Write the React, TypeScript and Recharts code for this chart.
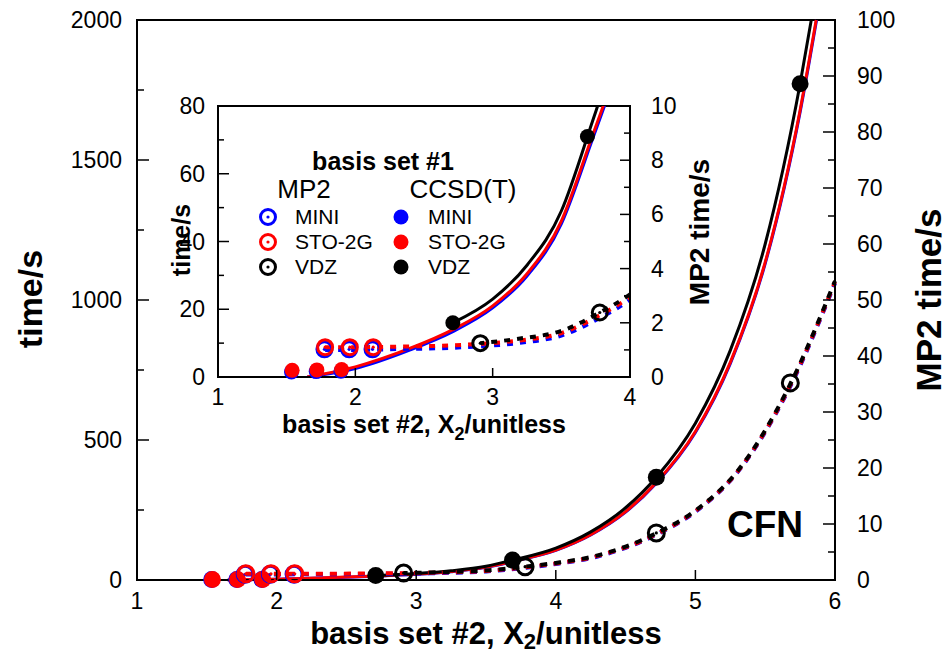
import { ComposedChart, Line, Scatter, XAxis, YAxis, ReferenceArea } from "recharts";

const FONT = "'Liberation Sans', Arial, Helvetica, sans-serif";
const BLUE = "#0000ff";
const RED = "#ff0000";
const BLACK = "#000000";

// CCSD(T) timings, time/s on the left axis (filled symbols)
const ccsdMiniX = [1.535, 1.715, 1.895];
const ccsdMiniT = [1.5, 1.6, 1.7];
const ccsdStoX = [1.54, 1.72, 1.9];
const ccsdStoT = [2.0, 2.1, 2.2];
const ccsdVdzX = [2.71, 3.69, 4.72, 5.75];
const ccsdVdzT = [16, 71, 367, 1772];

// MP2 timings, time/s on the right axis (open symbols)
const mp2MiniX = [1.775, 1.955, 2.125];
const mp2MiniT = [1.02, 1.02, 1.02];
const mp2StoX = [1.78, 1.96, 2.13];
const mp2StoT = [1.1, 1.1, 1.1];
const mp2VdzX = [2.91, 3.78, 4.72, 5.68];
const mp2VdzT = [1.25, 2.38, 8.4, 35.2];

// fitted curves
const fitCcsdVdzX = [2.71, 3.0, 3.25, 3.5, 3.69, 4.0, 4.25, 4.5, 4.72, 5.0, 5.25, 5.5, 5.75, 5.83];
const fitCcsdVdzT = [16, 23, 33, 49, 71, 114, 172, 258, 367, 560, 820, 1200, 1772, 2000];
const fitCcsdStoX = [1.65, 2.0, 2.4, 2.71, 3.0, 3.25, 3.5, 3.69, 4.0, 4.25, 4.5, 4.72, 5.0, 5.25, 5.5, 5.75, 5.865];
const fitCcsdStoT = [0, 3, 8.5, 14, 21, 30.5, 46, 67, 107, 162, 244, 348, 530, 777, 1135, 1678, 2000];
const fitCcsdMiniX = [1.65, 2.0, 2.4, 2.71, 3.0, 3.25, 3.5, 3.69, 4.0, 4.25, 4.5, 4.72, 5.0, 5.25, 5.5, 5.75, 5.868];
const fitCcsdMiniT = [0, 2.5, 8.0, 13.4, 20.4, 29.8, 45.2, 66, 106, 161, 242.5, 346, 527, 773, 1130, 1671, 2000];

const fitMp2VdzX = [2.91, 3.2, 3.5, 3.78, 4.0, 4.3, 4.72, 5.0, 5.3, 5.68, 6.0];
const fitMp2VdzT = [1.25, 1.42, 1.7, 2.38, 3.05, 4.4, 8.35, 12.4, 19.4, 35.0, 53.4];
const fitMp2StoX = [1.78, 2.0, 2.3, 2.6, 2.9, 3.2, 3.5, 3.78, 4.0, 4.3, 4.72, 5.0, 5.3, 5.68, 6.0];
const fitMp2StoT = [1.1, 1.1, 1.12, 1.15, 1.22, 1.35, 1.62, 2.28, 2.95, 4.3, 8.2, 12.3, 19.3, 34.8, 53.2];
const fitMp2MiniT = [1.0, 1.0, 1.03, 1.06, 1.13, 1.26, 1.53, 2.18, 2.85, 4.2, 8.1, 12.2, 19.2, 34.6, 53.0];

// axis ticks
const mainXTicks = [1, 2, 3, 4, 5, 6];
const mainLeftTicks = [0, 250, 500, 750, 1000, 1250, 1500, 1750, 2000];
const mainLeftMajor = [0, 500, 1000, 1500, 2000];
const mainRightTicks = [0, 5, 10, 15, 20, 25, 30, 35, 40, 45, 50, 55, 60, 65, 70, 75, 80, 85, 90, 95, 100];
const mainRightMajor = [0, 10, 20, 30, 40, 50, 60, 70, 80, 90, 100];
const insetXTicks = [1, 2, 3, 4];
const insetLeftTicks = [0, 10, 20, 30, 40, 50, 60, 70, 80];
const insetLeftMajor = [0, 20, 40, 60, 80];
const insetRightTicks = [0, 1, 2, 3, 4, 5, 6, 7, 8, 9, 10];
const insetRightMajor = [0, 2, 4, 6, 8, 10];

const pts = (xs: number[], ys: number[]) => xs.map((x, i) => ({ x, y: ys[i] }));

const yTick =
  (edge: number, side: "left" | "right", majors: number[], majorLen: number, minorLen: number) =>
  (props: any) => {
    const { x, y, payload } = props;
    const v = payload.value;
    const isMajor = majors.includes(v);
    const len = isMajor ? majorLen : minorLen;
    const dir = side === "left" ? 1 : -1;
    return (
      <g>
        <line x1={edge} x2={edge + dir * len} y1={y} y2={y} stroke={BLACK} strokeWidth={1.5} />
        {isMajor && (
          <text x={x} y={y} dy="0.35em" textAnchor={side === "left" ? "end" : "start"} fontSize={23} fontFamily={FONT} fill={BLACK}>
            {v}
          </text>
        )}
      </g>
    );
  };

const xTick = (edge: number, len: number, lo: number, hi: number) => (props: any) => {
  const { x, y, payload } = props;
  const v = payload.value;
  const showLine = v !== lo && v !== hi;
  return (
    <g>
      {showLine && <line x1={x} x2={x} y1={edge} y2={edge - len} stroke={BLACK} strokeWidth={1.5} />}
      <text x={x} y={y} dy="0.71em" textAnchor="middle" fontSize={23} fontFamily={FONT} fill={BLACK}>
        {v}
      </text>
    </g>
  );
};

const filled = (color: string, r: number) => (p: any) => <circle cx={p.cx} cy={p.cy} r={r} fill={color} />;
const open = (color: string, r: number) => (p: any) => (
  <g>
    <circle cx={p.cx} cy={p.cy} r={r} fill="none" stroke={color} strokeWidth={3} />
    <circle cx={p.cx} cy={p.cy} r={1.6} fill={color} />
  </g>
);

const axisLine = { stroke: BLACK, strokeWidth: 2 };
const txt = { fontFamily: FONT, fill: BLACK };

const MainChart = () => (
  <ComposedChart width={948} height={655} margin={{ top: 20, right: 0, bottom: 0, left: 0 }}>
    <XAxis
      xAxisId="x"
      type="number"
      dataKey="x"
      domain={[1, 6]}
      ticks={mainXTicks}
      interval={0}
      height={75}
      tickSize={0}
      tickLine={false}
      tickMargin={13}
      axisLine={axisLine}
      tick={xTick(580, 10, 1, 6)}
    />
    <YAxis
      yAxisId="l"
      type="number"
      domain={[0, 2000]}
      ticks={mainLeftTicks}
      interval={0}
      width={137}
      tickSize={0}
      tickLine={false}
      tickMargin={15}
      axisLine={axisLine}
      tick={yTick(137, "left", mainLeftMajor, 12, 7)}
    />
    <YAxis
      yAxisId="r"
      orientation="right"
      type="number"
      domain={[0, 100]}
      ticks={mainRightTicks}
      interval={0}
      width={113}
      tickSize={0}
      tickLine={false}
      tickMargin={22}
      axisLine={axisLine}
      tick={yTick(835, "right", mainRightMajor, 12, 7)}
    />
    <ReferenceArea xAxisId="x" yAxisId="l" x1={1} x2={6} y1={0} y2={2000} fill="none" stroke={BLACK} strokeWidth={2} />

    <Line xAxisId="x" yAxisId="l" data={pts(fitCcsdMiniX, fitCcsdMiniT)} dataKey="y" type="monotone" stroke={BLUE} strokeWidth={3} dot={false} isAnimationActive={false} />
    <Line xAxisId="x" yAxisId="l" data={pts(fitCcsdStoX, fitCcsdStoT)} dataKey="y" type="monotone" stroke={RED} strokeWidth={3} dot={false} isAnimationActive={false} />
    <Line xAxisId="x" yAxisId="l" data={pts(fitCcsdVdzX, fitCcsdVdzT)} dataKey="y" type="monotone" stroke={BLACK} strokeWidth={3} dot={false} isAnimationActive={false} />
    <Line xAxisId="x" yAxisId="r" data={pts(fitMp2StoX, fitMp2MiniT)} dataKey="y" type="monotone" stroke={BLUE} strokeWidth={4} strokeDasharray="7 7" dot={false} isAnimationActive={false} />
    <Line xAxisId="x" yAxisId="r" data={pts(fitMp2StoX, fitMp2StoT)} dataKey="y" type="monotone" stroke={RED} strokeWidth={4} strokeDasharray="7 7" dot={false} isAnimationActive={false} />
    <Line xAxisId="x" yAxisId="r" data={pts(fitMp2VdzX, fitMp2VdzT)} dataKey="y" type="monotone" stroke={BLACK} strokeWidth={4} strokeDasharray="7 7" strokeDashoffset={3} dot={false} isAnimationActive={false} />

    <Scatter xAxisId="x" yAxisId="l" data={pts(ccsdMiniX, ccsdMiniT)} dataKey="y" shape={filled(BLUE, 8.5)} isAnimationActive={false} />
    <Scatter xAxisId="x" yAxisId="l" data={pts(ccsdStoX, ccsdStoT)} dataKey="y" shape={filled(RED, 8.5)} isAnimationActive={false} />
    <Scatter xAxisId="x" yAxisId="l" data={pts(ccsdVdzX, ccsdVdzT)} dataKey="y" shape={filled(BLACK, 8.5)} isAnimationActive={false} />
    <Scatter xAxisId="x" yAxisId="r" data={pts(mp2MiniX, mp2MiniT)} dataKey="y" shape={open(BLUE, 8)} isAnimationActive={false} />
    <Scatter xAxisId="x" yAxisId="r" data={pts(mp2StoX, mp2StoT)} dataKey="y" shape={open(RED, 8)} isAnimationActive={false} />
    <Scatter xAxisId="x" yAxisId="r" data={pts(mp2VdzX, mp2VdzT)} dataKey="y" shape={open(BLACK, 8)} isAnimationActive={false} />

    <text x={30} y={299} transform="rotate(-90 30 299)" textAnchor="middle" dy="0.35em" fontSize={34} fontWeight="bold" {...txt}>
      time/s
    </text>
    <text x={929} y={300} transform="rotate(-90 929 300)" textAnchor="middle" dy="0.35em" fontSize={35} fontWeight="bold" {...txt}>
      MP2 time/s
    </text>
    <text x={486} y={644} textAnchor="middle" fontSize={31} fontWeight="bold" {...txt}>
      basis set #2, X<tspan fontSize={22} dy={5}>2</tspan>
      <tspan dy={-5}>/unitless</tspan>
    </text>
    <text x={765} y={537} textAnchor="middle" fontSize={37} fontWeight="bold" {...txt}>
      CFN
    </text>
  </ComposedChart>
);

const inside = (p: { x: number }) => p.x <= 4;

const InsetChart = () => (
  <ComposedChart width={948} height={655} margin={{ top: 106, right: 218, bottom: 215, left: 140 }}>
    <XAxis
      xAxisId="x"
      type="number"
      dataKey="x"
      domain={[1, 4]}
      ticks={insetXTicks}
      interval={0}
      height={63}
      tickSize={0}
      tickLine={false}
      tickMargin={12}
      axisLine={axisLine}
      tick={xTick(377, 9, 1, 4)}
    />
    <XAxis xAxisId="xc" type="number" dataKey="x" domain={[1, 4]} allowDataOverflow hide />
    <YAxis
      yAxisId="l"
      type="number"
      domain={[0, 80]}
      ticks={insetLeftTicks}
      interval={0}
      width={78}
      tickSize={0}
      tickLine={false}
      tickMargin={13}
      axisLine={axisLine}
      tick={yTick(218, "left", insetLeftMajor, 11, 6)}
    />
    <YAxis
      yAxisId="r"
      orientation="right"
      type="number"
      domain={[0, 10]}
      ticks={insetRightTicks}
      interval={0}
      width={100}
      tickSize={0}
      tickLine={false}
      tickMargin={21}
      axisLine={axisLine}
      tick={yTick(630, "right", insetRightMajor, 10, 6)}
    />
    <YAxis yAxisId="lc" type="number" domain={[0, 80]} allowDataOverflow hide />
    <YAxis yAxisId="rc" orientation="right" type="number" domain={[0, 10]} allowDataOverflow hide />
    <ReferenceArea xAxisId="x" yAxisId="l" x1={1} x2={4} y1={0} y2={80} fill="none" stroke={BLACK} strokeWidth={2} />

    <Line xAxisId="xc" yAxisId="lc" data={pts(fitCcsdMiniX, fitCcsdMiniT)} dataKey="y" type="monotone" stroke={BLUE} strokeWidth={3} dot={false} isAnimationActive={false} />
    <Line xAxisId="xc" yAxisId="lc" data={pts(fitCcsdStoX, fitCcsdStoT)} dataKey="y" type="monotone" stroke={RED} strokeWidth={3} dot={false} isAnimationActive={false} />
    <Line xAxisId="xc" yAxisId="lc" data={pts(fitCcsdVdzX, fitCcsdVdzT)} dataKey="y" type="monotone" stroke={BLACK} strokeWidth={3} dot={false} isAnimationActive={false} />
    <Line xAxisId="xc" yAxisId="rc" data={pts(fitMp2StoX, fitMp2MiniT)} dataKey="y" type="monotone" stroke={BLUE} strokeWidth={4} strokeDasharray="6 7" dot={false} isAnimationActive={false} />
    <Line xAxisId="xc" yAxisId="rc" data={pts(fitMp2StoX, fitMp2StoT)} dataKey="y" type="monotone" stroke={RED} strokeWidth={4} strokeDasharray="6 7" dot={false} isAnimationActive={false} />
    <Line xAxisId="xc" yAxisId="rc" data={pts(fitMp2VdzX, fitMp2VdzT)} dataKey="y" type="monotone" stroke={BLACK} strokeWidth={4} strokeDasharray="6 7" strokeDashoffset={2} dot={false} isAnimationActive={false} />

    <Scatter xAxisId="x" yAxisId="l" data={pts(ccsdMiniX, ccsdMiniT).filter(inside)} dataKey="y" shape={filled(BLUE, 7.5)} isAnimationActive={false} />
    <Scatter xAxisId="x" yAxisId="l" data={pts(ccsdStoX, ccsdStoT).filter(inside)} dataKey="y" shape={filled(RED, 7.5)} isAnimationActive={false} />
    <Scatter xAxisId="x" yAxisId="l" data={pts(ccsdVdzX, ccsdVdzT).filter(inside)} dataKey="y" shape={filled(BLACK, 7.5)} isAnimationActive={false} />
    <Scatter xAxisId="x" yAxisId="r" data={pts(mp2MiniX, mp2MiniT).filter(inside)} dataKey="y" shape={open(BLUE, 7.5)} isAnimationActive={false} />
    <Scatter xAxisId="x" yAxisId="r" data={pts(mp2StoX, mp2StoT).filter(inside)} dataKey="y" shape={open(RED, 7.5)} isAnimationActive={false} />
    <Scatter xAxisId="x" yAxisId="r" data={pts(mp2VdzX, mp2VdzT).filter(inside)} dataKey="y" shape={open(BLACK, 7.5)} isAnimationActive={false} />

    <text x={181} y={240} transform="rotate(-90 181 240)" textAnchor="middle" dy="0.35em" fontSize={25} fontWeight="bold" {...txt}>
      time/s
    </text>
    <text x={699} y={232} transform="rotate(-90 699 232)" textAnchor="middle" dy="0.35em" fontSize={28} fontWeight="bold" {...txt}>
      MP2 time/s
    </text>
    <text x={424} y={433} textAnchor="middle" fontSize={25} fontWeight="bold" {...txt}>
      basis set #2, X<tspan fontSize={18} dy={7}>2</tspan>
      <tspan dy={-7}>/unitless</tspan>
    </text>

    <text x={383} y={170} textAnchor="middle" fontSize={25} fontWeight="bold" {...txt}>
      basis set #1
    </text>
    <text x={304} y={198} textAnchor="middle" fontSize={26} {...txt}>
      MP2
    </text>
    <text x={463} y={198} textAnchor="middle" fontSize={26} {...txt}>
      CCSD(T)
    </text>
    {[
      { name: "MINI", color: BLUE, y: 217 },
      { name: "STO-2G", color: RED, y: 242 },
      { name: "VDZ", color: BLACK, y: 267 },
    ].map((row) => (
      <g key={row.name}>
        <circle cx={268} cy={row.y} r={7.5} fill="none" stroke={row.color} strokeWidth={3} />
        <circle cx={268} cy={row.y} r={1.6} fill={row.color} />
        <text x={295} y={row.y} dy="0.35em" fontSize={21} {...txt}>
          {row.name}
        </text>
        <circle cx={401} cy={row.y} r={7.5} fill={row.color} />
        <text x={428} y={row.y} dy="0.35em" fontSize={21} {...txt}>
          {row.name}
        </text>
      </g>
    ))}
  </ComposedChart>
);

export default function App() {
  return (
    <div style={{ position: "absolute", left: 0, top: 0, width: 948, height: 655, background: "#fff" }}>
      <div style={{ position: "absolute", left: 0, top: 0 }}>
        <MainChart />
      </div>
      <div style={{ position: "absolute", left: 0, top: 0 }}>
        <InsetChart />
      </div>
    </div>
  );
}
